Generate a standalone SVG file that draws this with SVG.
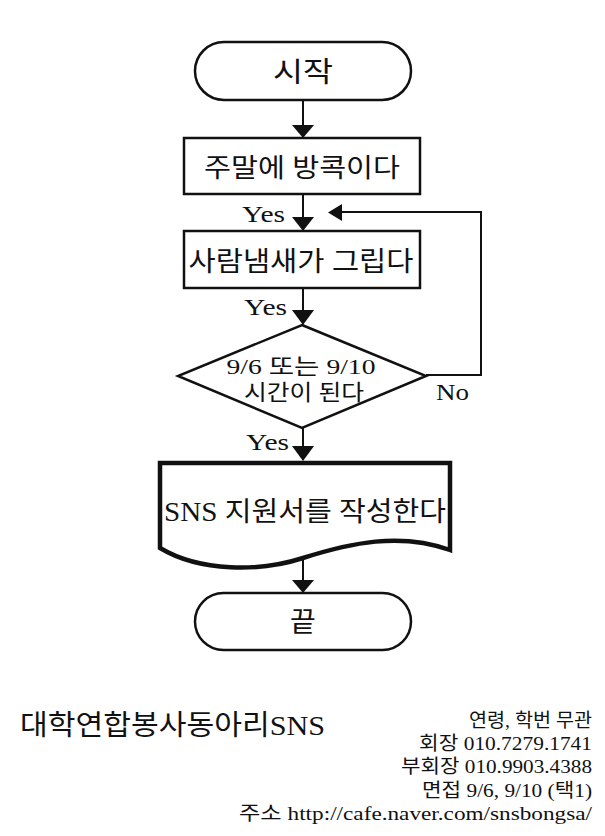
<svg xmlns="http://www.w3.org/2000/svg" width="605" height="836" viewBox="0 0 605 836">
<defs>
<style>
text{font-family:"Liberation Serif","Noto Sans CJK KR",serif;fill:#111}
.n{fill:#fff;stroke:#111;stroke-width:2.5}
.c{text-anchor:middle}
.e{stroke:#111;stroke-width:2;fill:none}
.h{fill:#111;stroke:none}
.lab{font-size:24px}
.ft{font-size:19px;text-anchor:end}
</style>
</defs>
<rect width="605" height="836" fill="#fff"/>
<g id="connectors">
<line class="e" x1="303" y1="100" x2="303" y2="126"/>
<polygon class="h" points="292,125 314,125 303,138"/>
<line class="e" x1="303" y1="194" x2="303" y2="218"/>
<polygon class="h" points="292,217 314,217 303,231"/>
<line class="e" x1="303" y1="288" x2="303" y2="311"/>
<polygon class="h" points="292,310 314,310 303,325"/>
<line class="e" x1="303" y1="428" x2="303" y2="447"/>
<polygon class="h" points="292,446 314,446 303,461"/>
<line class="e" x1="303" y1="558" x2="303" y2="581"/>
<polygon class="h" points="292,580 314,580 303,593"/>
<polyline class="e" points="426,375 481,375 481,212 341,212"/>
<polygon class="h" points="342,204 342,221 328,212.5"/>
<text class="lab" x="242" y="222" textLength="43" lengthAdjust="spacingAndGlyphs">Yes</text>
<text class="lab" x="244" y="315" textLength="43" lengthAdjust="spacingAndGlyphs">Yes</text>
<text class="lab" x="246" y="450" textLength="43" lengthAdjust="spacingAndGlyphs">Yes</text>
<text class="lab" x="436" y="400" textLength="33" lengthAdjust="spacingAndGlyphs">No</text>
</g>
<g id="start">
<rect class="n" x="195" y="42" width="216" height="58" rx="29"/>
<text class="c" x="303" y="82" font-size="28" textLength="60" lengthAdjust="spacingAndGlyphs">시작</text>
</g>
<g id="step1">
<rect class="n" x="184" y="138" width="236" height="56"/>
<text class="c" x="302" y="177" font-size="26" textLength="196" lengthAdjust="spacingAndGlyphs">주말에 방콕이다</text>
</g>
<g id="step2">
<rect class="n" x="184" y="231" width="236" height="57"/>
<text class="c" x="301" y="271" font-size="27" textLength="225" lengthAdjust="spacingAndGlyphs">사람냄새가 그립다</text>
</g>
<g id="decision">
<polygon class="n" points="302,325 426,376 302,428 178,376"/>
<text class="c" x="301" y="374" font-size="22" textLength="149" lengthAdjust="spacingAndGlyphs">9/6 또는 9/10</text>
<text class="c" x="304" y="400" font-size="22" textLength="120" lengthAdjust="spacingAndGlyphs">시간이 된다</text>
</g>
<g id="document">
<path d="M160,463 H450 V550 C400,532 350,543 303,558 C260,572 200,572 160,548 Z" fill="#fff" stroke="#111" stroke-width="4.5" stroke-linejoin="miter"/>
<text class="c" x="305" y="521" font-size="27" textLength="282" lengthAdjust="spacingAndGlyphs">SNS 지원서를 작성한다</text>
</g>
<g id="end">
<rect class="n" x="195" y="593" width="216" height="57" rx="28.5"/>
<text class="c" x="303" y="632" font-size="28">끝</text>
</g>
<g id="footer">
<text x="20" y="735" font-size="28" textLength="305" lengthAdjust="spacingAndGlyphs">대학연합봉사동아리SNS</text>
<text class="ft" x="592" y="727" textLength="123" lengthAdjust="spacingAndGlyphs">연령, 학번 무관</text>
<text class="ft" x="592" y="750" textLength="173" lengthAdjust="spacingAndGlyphs">회장 010.7279.1741</text>
<text class="ft" x="592" y="773" textLength="191" lengthAdjust="spacingAndGlyphs">부회장 010.9903.4388</text>
<text class="ft" x="592" y="797" textLength="170" lengthAdjust="spacingAndGlyphs">면접 9/6, 9/10 (택1)</text>
<text class="ft" x="592" y="820" textLength="353" lengthAdjust="spacingAndGlyphs">주소 http://cafe.naver.com/snsbongsa/</text>
</g>
</svg>
